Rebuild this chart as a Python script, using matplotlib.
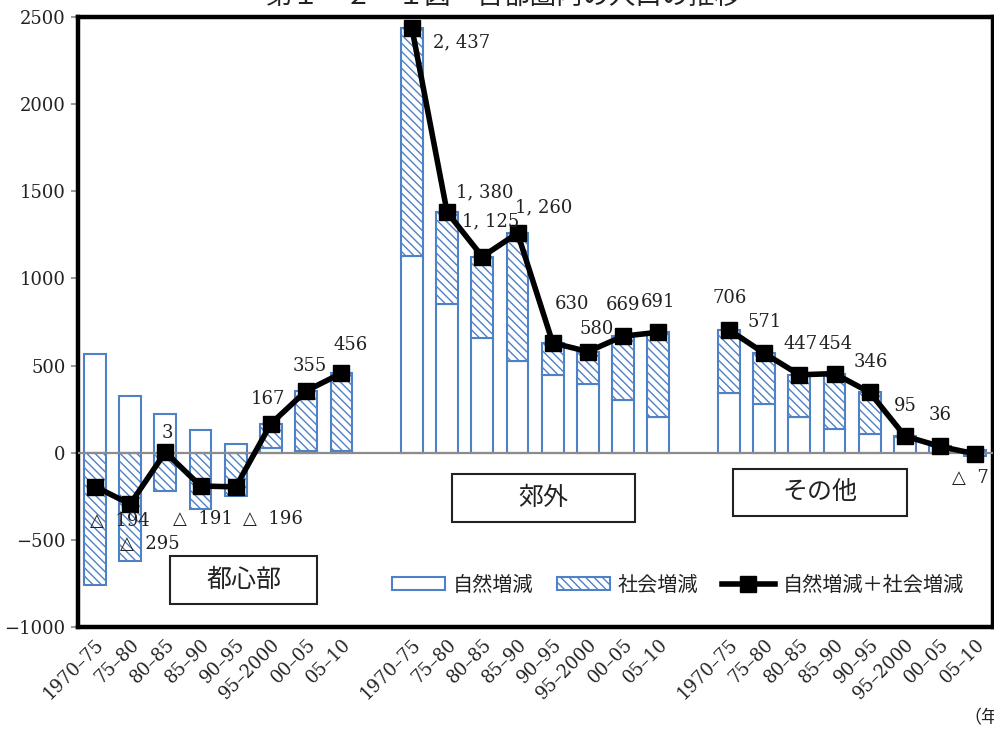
import matplotlib
matplotlib.use("Agg")
import matplotlib.pyplot as plt
from matplotlib.patches import Patch, Rectangle
from matplotlib.lines import Line2D

NUM_FONT = ["DejaVu Serif", "Noto Sans CJK JP"]
JP_FONT = ["Noto Sans CJK JP", "DejaVu Sans"]
plt.rcParams["font.family"] = NUM_FONT
plt.rcParams["hatch.linewidth"] = 1.0

# ---- data (thousand persons, per five-year period) ----
periods = ["1970–75", "75–80", "80–85", "85–90", "90–95", "95–2000", "00–05", "05–10"]
regions = ["都心部", "郊外", "その他"]

center_natural = [565, 328, 224, 132, 52, 25, 10, 10]
center_social = [-759, -623, -221, -323, -248, 142, 345, 446]
center_total = [-194, -295, 3, -191, -196, 167, 355, 456]

suburb_natural = [1130, 855, 660, 525, 445, 395, 305, 205]
suburb_social = [1307, 525, 465, 735, 185, 185, 364, 486]
suburb_total = [2437, 1380, 1125, 1260, 630, 580, 669, 691]

other_natural = [340, 280, 205, 135, 105, 90, 40, -20]
other_social = [366, 291, 242, 319, 241, 5, -4, 13]
other_total = [706, 571, 447, 454, 346, 95, 36, -7]

legend_labels = ["自然増減", "社会増減", "自然増減＋社会増減"]
title_text = "第１－２－１図　首都圏内の人口の推移"

# label offsets in pixels from each point of the total line
label_offsets = [
    [(25, -34), (20, -40), (2, 19), (2, -33), (37, -32), (-3, 25), (4, 25), (9, 28)],
    [(50, -14), (38, 20), (8, 35), (26, 26), (19, 39), (9, 23), (0, 31), (0, 30)],
    [(1, 32), (1, 31), (1, 31), (1, 30), (1, 30), (0, 30), (0, 31), (-5, -24)],
]
# region name boxes: (x0, x1, y0, y1) in data coordinates
region_boxes = [(2.13, 6.31, -868, -592), (10.14, 15.34, -397, -121), (18.13, 23.07, -362, -92)]

BLUE = "#4f81c7"
W = 0.62

fig = plt.figure(figsize=(9.95, 7.29), dpi=100)
ax = fig.add_axes([78 / 995, 1 - 627 / 729, (993 - 78) / 995, (627 - 17) / 729])


def fmt(v):
    s = f"{abs(v):,}".replace(",", ", ")
    return f"△  {s}" if v < 0 else s


groups = [
    (center_natural, center_social, center_total),
    (suburb_natural, suburb_social, suburb_total),
    (other_natural, other_social, other_total),
]

tick_pos, tick_lab = [], []
for g, (nat, soc, tot) in enumerate(groups):
    xs = [g * 9 + i for i in range(len(periods))]
    tick_pos += xs
    tick_lab += periods
    ax.bar(xs, nat, W, color="white", edgecolor=BLUE, linewidth=1.5, zorder=2)
    soc_bottom = [n if (n >= 0) == (s >= 0) else 0 for n, s in zip(nat, soc)]
    ax.bar(xs, soc, W, bottom=soc_bottom, color="white", edgecolor=BLUE,
           hatch="\\\\\\\\", linewidth=1.5, zorder=2)
    ax.plot(xs, tot, color="black", lw=4, marker="s", markersize=11.5, zorder=4)
    for x, v, off in zip(xs, tot, label_offsets[g]):
        ax.annotate(fmt(v), (x, v), xytext=off, textcoords="offset pixels",
                    ha="center", va="center", fontsize=13, color="#222222",
                    family=NUM_FONT, zorder=5)
    x0, x1, y0, y1 = region_boxes[g]
    ax.add_patch(Rectangle((x0, y0), x1 - x0, y1 - y0, facecolor="white",
                           edgecolor="#222222", lw=1.5, zorder=3))
    ax.text((x0 + x1) / 2, (y0 + y1) / 2, regions[g], ha="center", va="center",
            fontsize=18, family=JP_FONT, color="#222222", zorder=5)

ax.axhline(0, color="#8c8c8c", lw=1.6, zorder=3)

ax.set_xlim(-0.48, 25.5)
ax.set_ylim(-1000, 2500)
ax.set_yticks(range(-1000, 2501, 500))
ax.set_yticklabels([f"{v}".replace("-", "−") for v in range(-1000, 2501, 500)])
ax.set_xticks(tick_pos)
ax.set_xticklabels(tick_lab, rotation=45, ha="right", va="top",
                   rotation_mode="anchor")
ax.tick_params(axis="x", length=0, pad=6, labelsize=13)
ax.tick_params(axis="y", length=5, width=1.2, color="#888888", labelsize=13, pad=4)
for t in ax.get_xticklabels() + ax.get_yticklabels():
    t.set_color("#222222")
for sp in ax.spines.values():
    sp.set_linewidth(3.2)
    sp.set_color("black")

handles = [
    Patch(facecolor="white", edgecolor=BLUE, linewidth=1.5),
    Patch(facecolor="white", edgecolor=BLUE, hatch="\\\\\\\\", linewidth=1.5),
    Line2D([], [], color="black", lw=4, marker="s", markersize=11.5),
]
leg = fig.legend(handles, legend_labels, loc="center", ncol=3, frameon=False,
                 bbox_to_anchor=(678 / 995, 1 - 585 / 729),
                 prop={"family": JP_FONT, "size": 14.5},
                 handlelength=2.6, handleheight=0.6, handletextpad=0.4,
                 columnspacing=1.2)
for t in leg.get_texts():
    t.set_color("#222222")

fig.text(503 / 995, 1 + 4 / 729, title_text, ha="center", va="center",
         fontsize=19, family=JP_FONT, color="#222222")
fig.text(990 / 995, 1 - 718 / 729, "（年）", ha="center", va="center",
         fontsize=13, family=JP_FONT, color="#222222")

fig.savefig("out.png", dpi=100)
